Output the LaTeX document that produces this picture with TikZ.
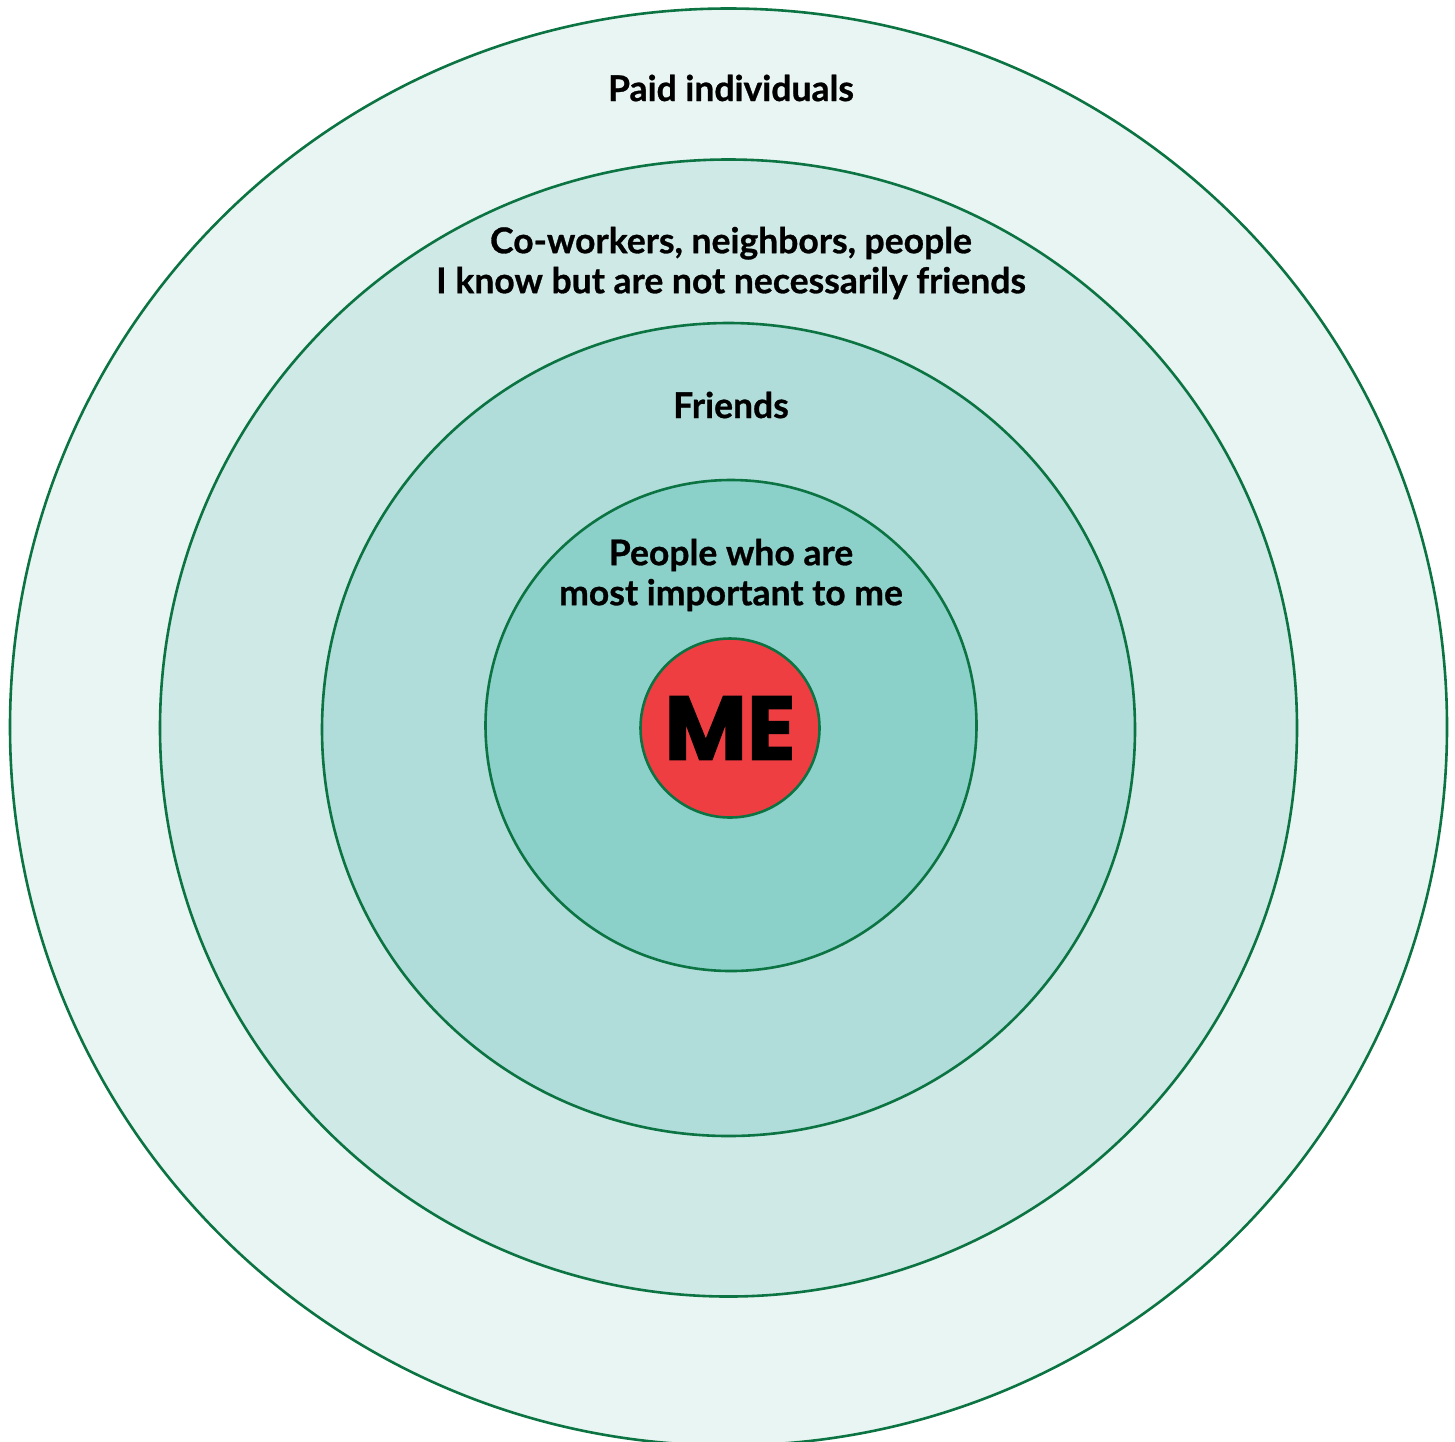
\documentclass[tikz,border=0pt]{standalone}
\usepackage{fontspec}
\setmainfont{Lato}[BoldFeatures={FakeBold=0.8}]
\newfontfamily\mefont{Poppins}[BoldFeatures={FakeBold=1.5}]
\definecolor{ring}{HTML}{0B7442}
\definecolor{fillA}{HTML}{E8F5F2}
\definecolor{fillB}{HTML}{CFE9E6}
\definecolor{fillC}{HTML}{B0DDD9}
\definecolor{fillD}{HTML}{8BD1CA}
\definecolor{mered}{HTML}{EE3E42}
\tikzset{
  ringc/.style={circle, draw=ring, line width=2.6pt, inner sep=0pt},
  lbl/.style={font=\fontsize{35.5}{40}\selectfont\bfseries, align=center, text=black, inner sep=0pt}
}
\begin{document}
\begin{tikzpicture}[x=1pt,y=-1pt]
\useasboundingbox (0,0) rectangle (1455,1441);
\clip (0,0) rectangle (1455,1441);
\node[ringc, fill=fillA, minimum size=1437pt] (outer) at (728.5,727) {};
\node[ringc, fill=fillB, minimum size=1137pt] (cowork) at (728.5,728) {};
\node[ringc, fill=fillC, minimum size=813pt] (friends) at (728.5,729.5) {};
\node[ringc, fill=fillD, minimum size=491pt] (important) at (731,725.5) {};
\node[ringc, fill=mered, minimum size=179pt, font=\mefont\fontsize{90}{90}\selectfont\bfseries] (me) at (730,728) {ME};
\node[lbl] (tpaid) at (731,88) {Paid individuals};
\node[lbl] (tcowork) at (731,263) {Co-workers, neighbors, people\\I know but are not necessarily friends};
\node[lbl] (tfriends) at (731,405) {Friends};
\node[lbl] (timp) at (731,575) {People who are\\most important to me};
\end{tikzpicture}
\end{document}
